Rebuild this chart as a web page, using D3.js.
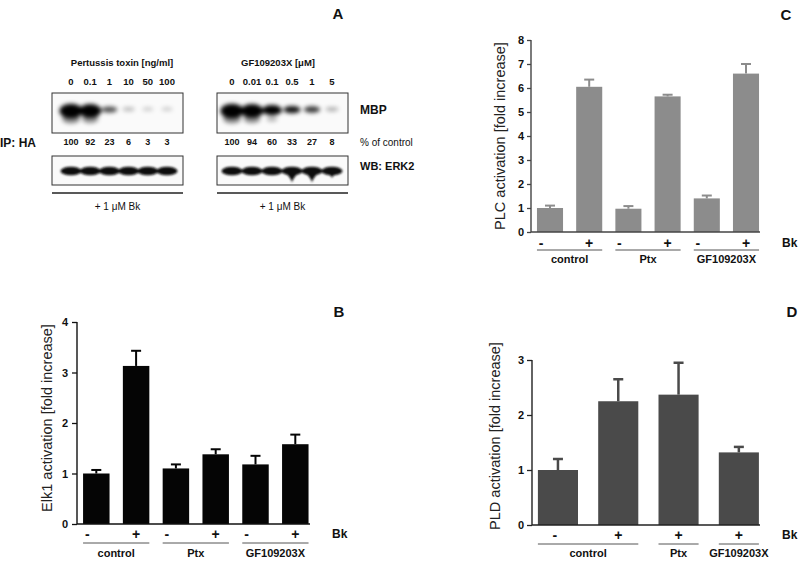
<!DOCTYPE html>
<html><head><meta charset="utf-8">
<script src="https://cdn.jsdelivr.net/npm/d3@7/dist/d3.min.js"></script>
<style>body{margin:0;background:#fff}svg{display:block}text{font-family:"Liberation Sans",Arial,Helvetica,sans-serif}</style>
</head><body>
<script>
// ---------- DATA ----------
const ptxDoses = ["0","0.1","1","10","50","100"];
const ptxPct = [100, 92, 23, 6, 3, 3];
const gfDoses = ["0","0.01","0.1","0.5","1","5"];
const gfPct = [100, 94, 60, 33, 27, 8];
const erkPtx = [1, 1, 1, 1, 1, 1];
const erkGf = [1, 1, 1, 1, 1, 1];
const erkGfDrip = [0, 0, 0, 1, 1, 0.6];

const groupNames = ["control", "Ptx", "GF109203X"];
const bkSigns = ["-", "+", "-", "+", "-", "+"];
const groupSpans = [[0, 1], [2, 3], [4, 5]];

const elkValues = [1.0, 3.13, 1.1, 1.38, 1.18, 1.58];
const elkErrors = [0.07, 0.30, 0.08, 0.10, 0.17, 0.19];
const elkTicks = [0, 1, 2, 3, 4];

const plcValues = [1.0, 6.05, 0.97, 5.65, 1.4, 6.6];
const plcErrors = [0.1, 0.3, 0.11, 0.07, 0.12, 0.4];
const plcTicks = [0, 1, 2, 3, 4, 5, 6, 7, 8];

const pldSigns = ["-", "+", "+", "+"];
const pldValues = [1.0, 2.25, 2.37, 1.32];
const pldErrors = [0.2, 0.4, 0.58, 0.1];
const pldSpans = [[0, 1], [2, 2], [3, 3]];
const pldTicks = [0, 1, 2, 3];

// ---------- SETUP ----------
const svg = d3.select("body").append("svg").attr("width", 800).attr("height", 562);
const defs = svg.append("defs");
defs.append("filter").attr("id", "blur").attr("x", "-50%").attr("y", "-50%").attr("width", "200%").attr("height", "200%")
  .append("feGaussianBlur").attr("stdDeviation", 2);
defs.append("filter").attr("id", "blur2").attr("x", "-50%").attr("y", "-50%").attr("width", "200%").attr("height", "200%")
  .append("feGaussianBlur").attr("stdDeviation", 1.1);

function txt(g, x, y, s, o = {}) {
  return g.append("text").attr("x", x).attr("y", y).text(s)
    .attr("font-size", o.size || 11).attr("font-weight", o.bold ? "bold" : "normal")
    .attr("text-anchor", o.anchor || "start").attr("fill", o.fill || "#111");
}

// ---------- PANEL A ----------
const A = svg.append("g");
txt(A, 338, 19, "A", {size: 15, bold: true, anchor: "middle"});

function blot(doses, pct, erk, drip, r0, r1, bx0, bx1, title, titleX) {
  const x = d3.scalePoint().domain(d3.range(doses.length)).range([r0, r1]);
  txt(A, titleX, 66, title, {size: 9.5, bold: true, anchor: "middle"});
  doses.forEach((d, i) => txt(A, x(i), 85, d, {size: 9.5, bold: true, anchor: "middle"}));
  // MBP blot
  const g1 = A.append("g");
  g1.append("rect").attr("x", bx0).attr("y", 93).attr("width", bx1 - bx0).attr("height", 40)
    .attr("fill", "#fafafa").attr("stroke", "#333").attr("stroke-width", 1);
  const bands = g1.append("g").attr("filter", "url(#blur)");
  pct.forEach((p, i) => {
    const f = p / 100;
    bands.append("ellipse").attr("cx", x(i)).attr("cy", 109 + 2 * f)
      .attr("rx", 4.5 + 7 * Math.sqrt(f)).attr("ry", 1.8 + 5.5 * f)
      .attr("fill", "#000").attr("opacity", Math.min(1, 0.1 + p / 40));
    if (p > 50) {
      bands.append("ellipse").attr("cx", x(i)).attr("cy", 119)
        .attr("rx", 9 * f).attr("ry", 4.5 * f)
        .attr("fill", "#000").attr("opacity", 0.45 * f);
    }
  });
  pct.forEach((p, i) => txt(A, x(i), 145, String(p), {size: 9, bold: true, anchor: "middle"}));
  // ERK2 blot
  const g2 = A.append("g");
  g2.append("rect").attr("x", bx0).attr("y", 156).attr("width", bx1 - bx0).attr("height", 29)
    .attr("fill", "#fafafa").attr("stroke", "#333").attr("stroke-width", 1);
  const eb = g2.append("g").attr("filter", "url(#blur2)");
  erk.forEach((e, i) => {
    eb.append("ellipse").attr("cx", x(i)).attr("cy", 171).attr("rx", 10.5).attr("ry", 4.3 * e)
      .attr("fill", "#0a0a0a");
    if (drip[i] > 0) {
      eb.append("path")
        .attr("d", `M${x(i) - 8},171 Q${x(i)},${171 + 8 * drip[i]} ${x(i)},${171 + 12 * drip[i]} Q${x(i)},${171 + 8 * drip[i]} ${x(i) + 8},171 Z`)
        .attr("fill", "#0a0a0a");
    }
  });
  A.append("line").attr("x1", bx0).attr("x2", bx1).attr("y1", 193).attr("y2", 193)
    .attr("stroke", "#222").attr("stroke-width", 1.5);
  txt(A, (bx0 + bx1) / 2, 210, "+ 1 \u03BCM Bk", {size: 10, anchor: "middle"});
}
blot(ptxDoses, ptxPct, erkPtx, [0, 0, 0, 0, 0, 0], 71, 167, 52, 183, "Pertussis toxin [ng/ml]", 122);
blot(gfDoses, gfPct, erkGf, erkGfDrip, 232, 332, 217, 348, "GF109203X [\u03BCM]", 278);
txt(A, 0, 147, "IP: HA", {size: 12, bold: true});
txt(A, 360, 114, "MBP", {size: 12, bold: true});
txt(A, 360, 146, "% of control", {size: 10});
txt(A, 360, 170, "WB: ERK2", {size: 11, bold: true});

// ---------- BAR PANELS ----------
function barPanel(o) {
  const g = svg.append("g");
  const n = o.values.length;
  const x = d3.scaleBand().domain(d3.range(n)).range([o.x0, o.x1]).paddingInner(0.335).paddingOuter(0.1675);
  const y = d3.scaleLinear().domain([0, o.yMax]).range([o.yBottom, o.yTop]);
  // bars
  g.selectAll("rect.bar").data(o.values).join("rect").attr("class", "bar")
    .attr("x", (d, i) => x(i)).attr("width", x.bandwidth())
    .attr("y", d => y(d)).attr("height", d => y(0) - y(d)).attr("fill", o.color);
  // error bars
  const cap = o.cap;
  o.values.forEach((v, i) => {
    const cx = x(i) + x.bandwidth() / 2;
    const top = y(v + o.errors[i]);
    g.append("line").attr("x1", cx).attr("x2", cx).attr("y1", y(v)).attr("y2", top)
      .attr("stroke", o.errColor).attr("stroke-width", o.errW);
    g.append("line").attr("x1", cx - cap / 2).attr("x2", cx + cap / 2).attr("y1", top).attr("y2", top)
      .attr("stroke", o.errColor).attr("stroke-width", o.errW);
  });
  // y axis
  const ax = g.append("g").attr("transform", `translate(${o.axisX},0)`)
    .call(d3.axisLeft(y).tickValues(o.ticks).tickFormat(d3.format("d")).tickSize(o.tickSize).tickPadding(o.tickPad));
  ax.select(".domain").remove();
  ax.selectAll(".tick line").attr("stroke", o.axisColor).attr("stroke-width", 1.3);
  ax.selectAll(".tick text").attr("font-size", 11).attr("font-weight", "bold").attr("fill", "#111")
    .attr("font-family", '"Liberation Sans",Arial,sans-serif');
  g.append("line").attr("x1", o.axisX).attr("x2", o.axisX).attr("y1", y(o.yMax)).attr("y2", y(0))
    .attr("stroke", o.axisColor).attr("stroke-width", 1.4);
  g.append("line").attr("x1", o.axisX).attr("x2", o.axisEnd).attr("y1", y(0)).attr("y2", y(0))
    .attr("stroke", o.axisColor).attr("stroke-width", 1.4);
  // y label
  g.append("text").attr("transform", `translate(${o.labX},${o.labY}) rotate(-90)`)
    .attr("text-anchor", "middle").attr("font-size", 14.5).attr("fill", "#222").text(o.ylabel);
  // signs
  o.signs.forEach((s, i) => {
    const cx = x(i) + x.bandwidth() / 2 + (s === "-" ? o.minusOff : 0);
    txt(g, cx, o.signY, s, {size: 14, bold: true, anchor: "middle"});
  });
  txt(g, o.bkX, o.signY - 1, "Bk", {size: 12, bold: true});
  // group lines and labels
  o.spans.forEach((sp, k) => {
    const a = x(sp[0]), b = x(sp[1]) + x.bandwidth();
    g.append("line").attr("x1", a).attr("x2", b).attr("y1", o.lineY).attr("y2", o.lineY)
      .attr("stroke", "#555").attr("stroke-width", 1);
    txt(g, (a + b) / 2, o.groupY, groupNames[k], {size: 11, bold: true, anchor: "middle"});
  });
  txt(g, o.letterX, o.letterY, o.letter, {size: 15, bold: true, anchor: "middle"});
}

barPanel({
  values: elkValues, errors: elkErrors, signs: bkSigns, spans: groupSpans, ticks: elkTicks, yMax: 4,
  x0: 76.4, x1: 315.2, yBottom: 524, yTop: 322, axisX: 77, axisEnd: 310,
  color: "#050505", errColor: "#050505", errW: 2, cap: 10, axisColor: "#111",
  tickSize: 5, tickPad: 4, ylabel: "Elk1 activation [fold increase]", labX: 52, labY: 418,
  signY: 539, minusOff: -9, bkX: 332, lineY: 543, groupY: 557,
  letter: "B", letterX: 339, letterY: 317
});
barPanel({
  values: plcValues, errors: plcErrors, signs: bkSigns, spans: groupSpans, ticks: plcTicks, yMax: 8,
  x0: 530.4, x1: 765.6, yBottom: 232, yTop: 40, axisX: 531, axisEnd: 760,
  color: "#8c8c8c", errColor: "#8c8c8c", errW: 2, cap: 10, axisColor: "#444",
  tickSize: 4, tickPad: 3, ylabel: "PLC activation [fold increase]", labX: 505, labY: 136,
  signY: 248, minusOff: -9, bkX: 782, lineY: 250, groupY: 263,
  letter: "C", letterX: 786, letterY: 20
});
barPanel({
  values: pldValues, errors: pldErrors, signs: pldSigns, spans: pldSpans, ticks: pldTicks, yMax: 3,
  x0: 527.8, x1: 769, yBottom: 525, yTop: 360, axisX: 532, axisEnd: 760,
  color: "#4a4a4a", errColor: "#4a4a4a", errW: 2.5, cap: 10, axisColor: "#222",
  tickSize: 5, tickPad: 3, ylabel: "PLD activation [fold increase]", labX: 500, labY: 436,
  signY: 540, minusOff: -3, bkX: 782, lineY: 544, groupY: 557,
  letter: "D", letterX: 792, letterY: 317
});
</script>
</body></html>
